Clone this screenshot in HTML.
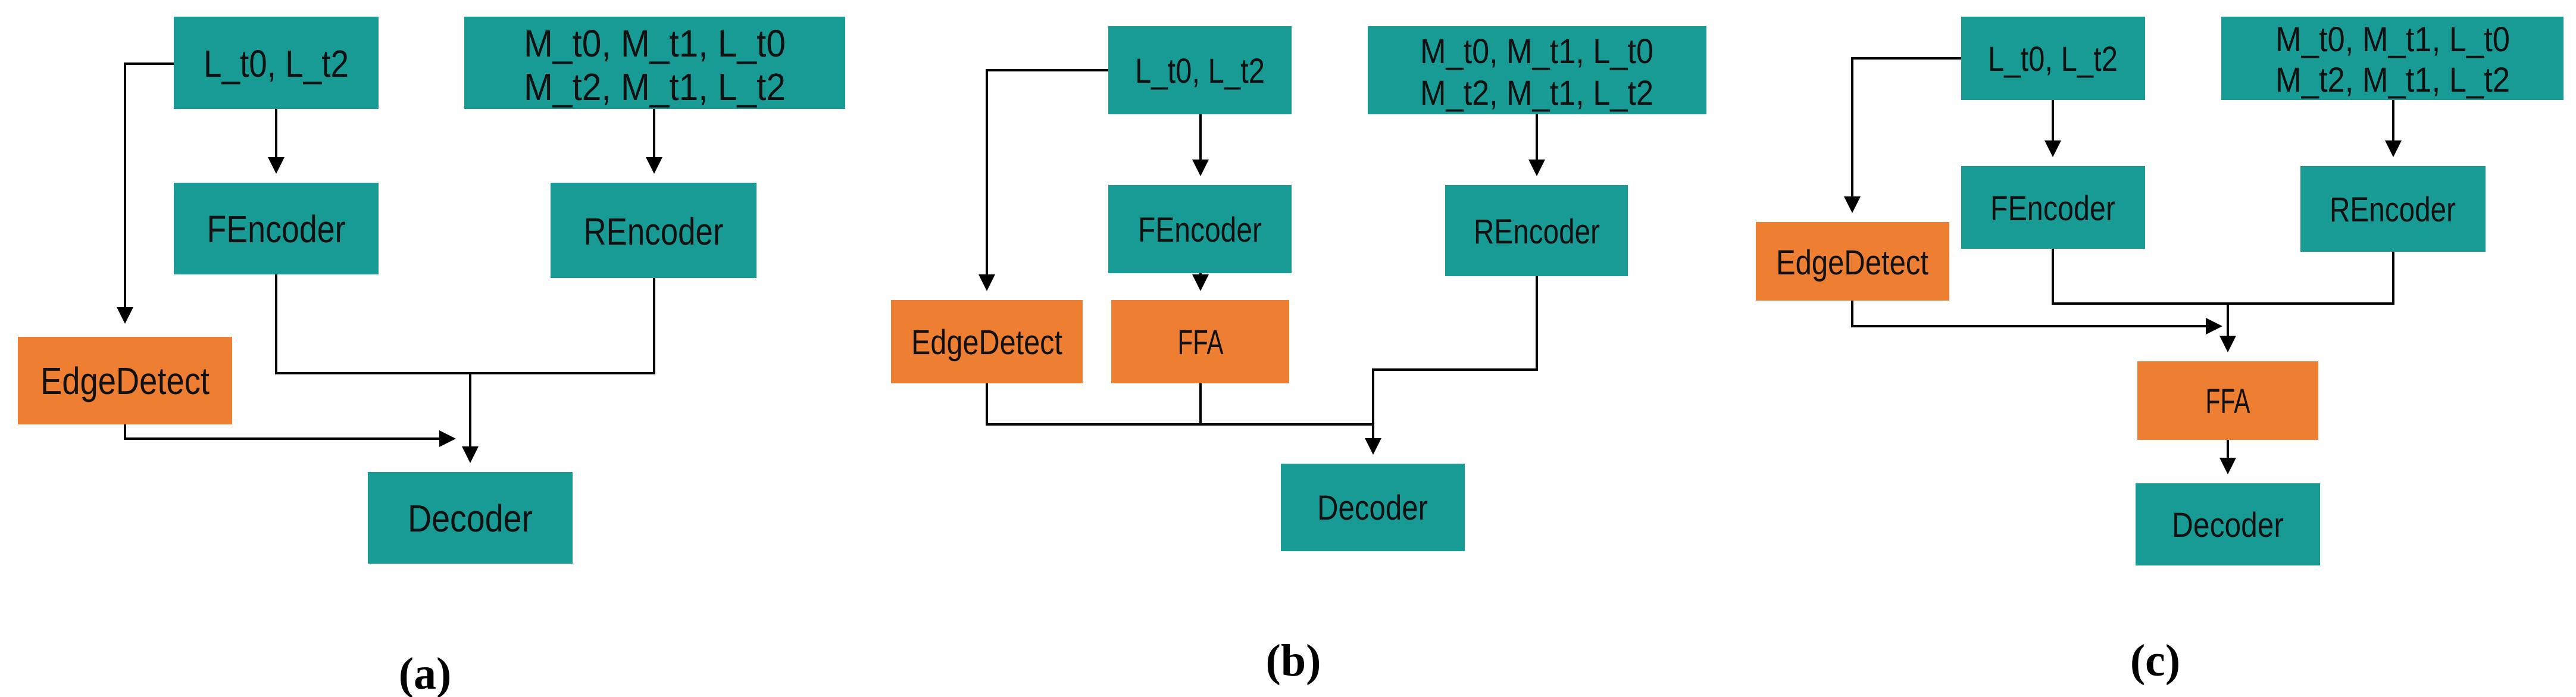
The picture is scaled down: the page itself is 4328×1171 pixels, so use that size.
<!DOCTYPE html>
<html><head><meta charset="utf-8"><style>
html,body{margin:0;padding:0;background:#fff;}
svg{display:block}
text{font-family:"Liberation Sans",sans-serif;fill:#111;}
.lab{font-family:"Liberation Serif",serif;font-weight:bold;font-size:76px;fill:#000}
</style></head><body>
<svg width="4328" height="1171" viewBox="0 0 4328 1171" xmlns="http://www.w3.org/2000/svg">
<defs>
<marker id="ah" markerWidth="7" markerHeight="7" refX="6" refY="3.5" orient="auto" markerUnits="strokeWidth">
<path d="M0,0 L7,3.5 L0,7 z" fill="#000"/></marker>
</defs>
<g fill="#179B94">
<rect x="292" y="28" width="344" height="155"/>
<rect x="780" y="28" width="640" height="155"/>
<rect x="292" y="307" width="344" height="154"/>
<rect x="925" y="307" width="346" height="160"/>
<rect x="618" y="793" width="344" height="154"/>
<rect x="1862" y="44" width="308" height="148"/>
<rect x="2298" y="44" width="569" height="148"/>
<rect x="1862" y="311" width="308" height="148"/>
<rect x="2428" y="311" width="307" height="153"/>
<rect x="2152" y="779" width="309" height="147"/>
<rect x="3295" y="28" width="309" height="140"/>
<rect x="3732" y="28" width="575" height="140"/>
<rect x="3295" y="279" width="309" height="139"/>
<rect x="3865" y="279" width="311" height="144"/>
<rect x="3588" y="812" width="310" height="138"/>
</g>
<g fill="#ED7E32">
<rect x="30" y="566" width="360" height="147"/>
<rect x="1497" y="504" width="322" height="140"/>
<rect x="1867" y="504" width="299" height="140"/>
<rect x="2950" y="373" width="325" height="132"/>
<rect x="3591" y="607" width="304" height="132"/>
</g>
<g stroke="#000" stroke-width="4" fill="none">
<path d="M292,107 H210 V540" marker-end="url(#ah)"/>
<path d="M464,183 V288" marker-end="url(#ah)"/>
<path d="M1099,183 V288" marker-end="url(#ah)"/>
<path d="M464,461 V627 H1099 V467"/>
<path d="M790,627 V774" marker-end="url(#ah)"/>
<path d="M210,713 V737 H762" marker-end="url(#ah)"/>
<path d="M1862,118 H1658 V485" marker-end="url(#ah)"/>
<path d="M2017,192 V292" marker-end="url(#ah)"/>
<path d="M2017,459 V485" marker-end="url(#ah)"/>
<path d="M2582,192 V292" marker-end="url(#ah)"/>
<path d="M2582,464 V621 H2307 V760" marker-end="url(#ah)"/>
<path d="M1658,644 V713 H2307"/>
<path d="M2017,644 V713"/>
<path d="M3295,98 H3112 V354" marker-end="url(#ah)"/>
<path d="M3449,168 V260" marker-end="url(#ah)"/>
<path d="M4021,168 V260" marker-end="url(#ah)"/>
<path d="M3449,418 V510 H4021 V423"/>
<path d="M3743,510 V588" marker-end="url(#ah)"/>
<path d="M3112,505 V548 H3730" marker-end="url(#ah)"/>
<path d="M3743,739 V793" marker-end="url(#ah)"/>
</g>
<g text-anchor="middle" font-size="64">
<text x="464" y="129" textLength="244" lengthAdjust="spacingAndGlyphs">L_t0, L_t2</text>
<text x="1100" y="95" textLength="440" lengthAdjust="spacingAndGlyphs">M_t0, M_t1, L_t0</text>
<text x="1100" y="168" textLength="440" lengthAdjust="spacingAndGlyphs">M_t2, M_t1, L_t2</text>
<text x="464" y="407" textLength="233" lengthAdjust="spacingAndGlyphs">FEncoder</text>
<text x="1098" y="411" textLength="235" lengthAdjust="spacingAndGlyphs">REncoder</text>
<text x="210" y="662" textLength="284" lengthAdjust="spacingAndGlyphs">EdgeDetect</text>
<text x="790" y="893" textLength="210" lengthAdjust="spacingAndGlyphs">Decoder</text>
</g>
<g text-anchor="middle" font-size="58">
<text x="2016" y="139" textLength="218" lengthAdjust="spacingAndGlyphs">L_t0, L_t2</text>
<text x="2582" y="106" textLength="392" lengthAdjust="spacingAndGlyphs">M_t0, M_t1, L_t0</text>
<text x="2582" y="176" textLength="392" lengthAdjust="spacingAndGlyphs">M_t2, M_t1, L_t2</text>
<text x="2016" y="406" textLength="208" lengthAdjust="spacingAndGlyphs">FEncoder</text>
<text x="2582" y="409" textLength="212" lengthAdjust="spacingAndGlyphs">REncoder</text>
<text x="1658" y="595" textLength="254" lengthAdjust="spacingAndGlyphs">EdgeDetect</text>
<text x="2017" y="595" textLength="77" lengthAdjust="spacingAndGlyphs">FFA</text>
<text x="2306" y="873" textLength="186" lengthAdjust="spacingAndGlyphs">Decoder</text>
<text x="3449" y="119" textLength="218" lengthAdjust="spacingAndGlyphs">L_t0, L_t2</text>
<text x="4020" y="86" textLength="394" lengthAdjust="spacingAndGlyphs">M_t0, M_t1, L_t0</text>
<text x="4020" y="154" textLength="394" lengthAdjust="spacingAndGlyphs">M_t2, M_t1, L_t2</text>
<text x="3449" y="370" textLength="210" lengthAdjust="spacingAndGlyphs">FEncoder</text>
<text x="4020" y="372" textLength="212" lengthAdjust="spacingAndGlyphs">REncoder</text>
<text x="3112" y="461" textLength="256" lengthAdjust="spacingAndGlyphs">EdgeDetect</text>
<text x="3743" y="694" textLength="75" lengthAdjust="spacingAndGlyphs">FFA</text>
<text x="3743" y="902" textLength="188" lengthAdjust="spacingAndGlyphs">Decoder</text>
</g>
<text class="lab" x="714" y="1157" text-anchor="middle">(a)</text>
<text class="lab" x="2173" y="1135" text-anchor="middle">(b)</text>
<text class="lab" x="3621" y="1135" text-anchor="middle">(c)</text>
</svg>
</body></html>
